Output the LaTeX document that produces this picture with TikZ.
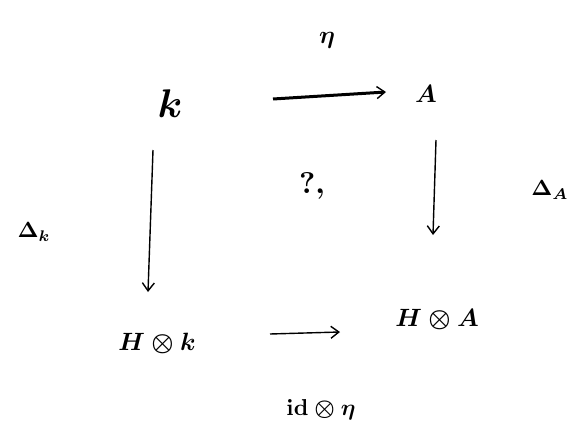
\documentclass[tikz,border=0pt]{standalone}
\usepackage{graphicx}
\usepackage{amsmath}
\usetikzlibrary{arrows.meta}
\begin{document}
\begin{tikzpicture}[x=1pt,y=-1pt,
  obj/.style={inner sep=0pt, font=\boldmath},
  lab/.style={inner sep=0pt, font=\boldmath\bfseries},
  map/.style={line width=1.4pt, -{Straight Barb[length=8pt,width=12pt,line width=1.4pt]}}]
\useasboundingbox (0,0) rectangle (581,444);
% objects of the square
\node[obj] (k) at (170,104) {\scalebox{4}{$k$}};
\node[obj] (A) at (426,94) {\scalebox{2.5}{$A$}};
\node[obj] (Hk) at (157,343) {\scalebox{2.5}{$H\otimes k$}};
\node[obj] (HA) at (437,320) {\scalebox{2.5}{$H\otimes A$}};
% arrow anchors
\coordinate (t1) at (273,99);
\coordinate (t2) at (386,92);
\coordinate (l1) at (153,150);
\coordinate (l2) at (148,292);
\coordinate (r1) at (436,140);
\coordinate (r2) at (433,235);
\coordinate (b1) at (270,334);
\coordinate (b2) at (340,332);
% maps
\draw[map, line width=3pt] (t1) -- (t2);
\draw[map] (l1) -- (l2);
\draw[map] (r1) -- (r2);
\draw[map] (b1) -- (b2);
% labels
\node[lab] (eta) at (327,40) {\scalebox{2.5}{$\eta$}};
\node[lab] (dk) at (34,232) {\scalebox{2.2}{$\Delta_k$}};
\node[lab] (dA) at (550,190) {\scalebox{2.2}{$\Delta_A$}};
\node[lab] (q) at (312,186) {\scalebox{3}{?,}};
\node[lab] (ide) at (321,410) {\scalebox{2.3}{$\mathrm{id}\otimes\eta$}};
\end{tikzpicture}
\end{document}
